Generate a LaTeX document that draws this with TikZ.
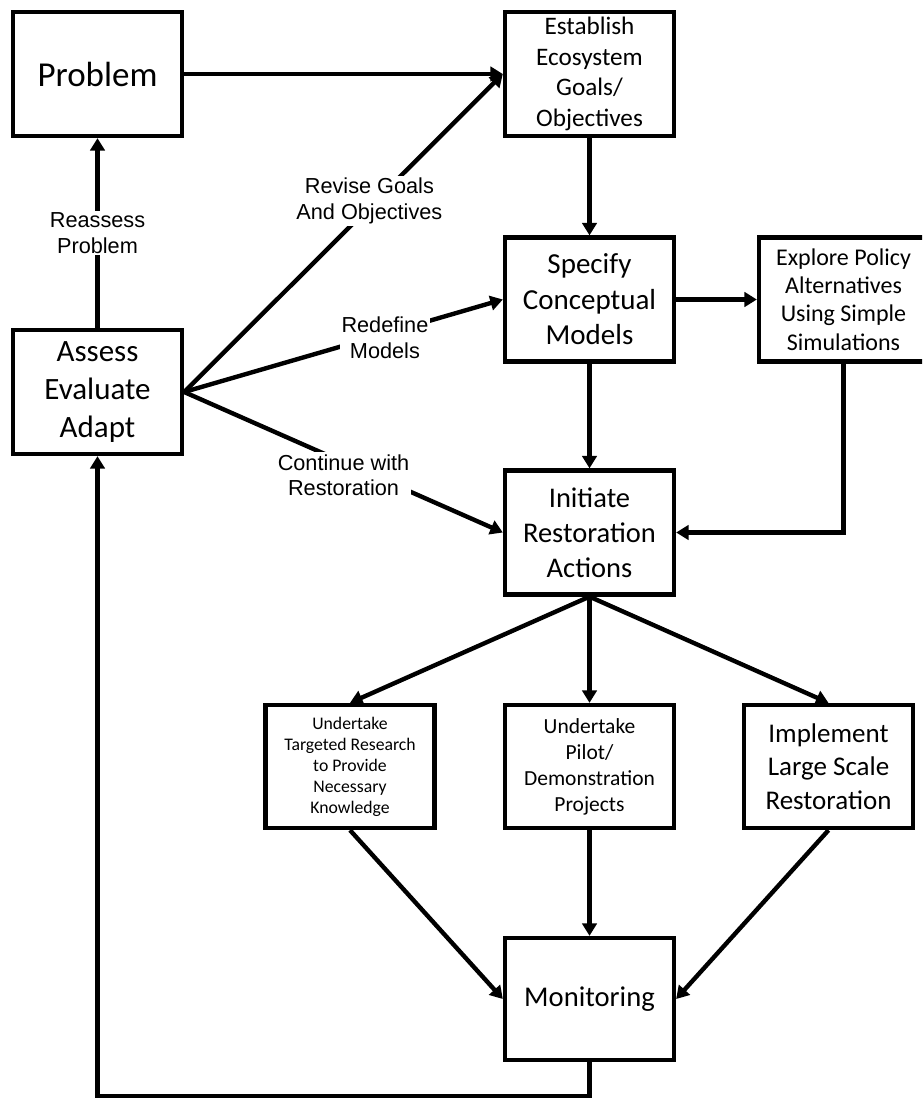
\documentclass[tikz,border=0pt]{standalone}
\usepackage{fontspec}
\setmainfont{Carlito}
\newfontfamily\labfont{Liberation Sans}
\usetikzlibrary{arrows.meta,calc}
\begin{document}
\begin{tikzpicture}[x=1pt,y=-1pt,
  box/.style={draw, line width=4.3pt, align=center, inner sep=0pt, minimum width=169pt, minimum height=124pt},
  conn/.style={line width=4.4pt, -{Triangle[length=12.5pt,width=14.5pt]}},
  lab/.style={fill=white, inner sep=2pt, align=center, font=\labfont\fontsize{21.7}{25.8}\selectfont},
]
\useasboundingbox (0,0) rectangle (922,1099);
\clip (0,0) rectangle (922,1099);
% boxes
\node[box, font=\fontsize{35}{42.7}\selectfont] (problem) at (97.5,74) {Problem};
\node[box, font=\fontsize{25.2}{30.5}\selectfont] (establish) at (589.5,74) {Establish\\Ecosystem\\Goals/\\Objectives};
\node[box, font=\fontsize{29}{35.4}\selectfont] (specify) at (589.5,299.5) {Specify\\Conceptual\\Models};
\node[box, font=\fontsize{24}{28.4}\selectfont] (explore) at (843.5,299.5) {Explore Policy\\Alternatives\\Using Simple\\Simulations};
\node[box, font=\fontsize{31}{37.8}\selectfont] (assess) at (97.5,392) {Assess\\Evaluate\\Adapt};
\node[box, font=\fontsize{28.5}{35}\selectfont] (initiate) at (589.5,532.5) {Initiate\\Restoration\\Actions};
\node[box, minimum height=123pt, font=\fontsize{17.7}{21}\selectfont] (research) at (350,766.5) {Undertake\\Targeted Research\\to Provide\\Necessary\\Knowledge};
\node[box, minimum height=123pt, font=\fontsize{21.5}{26}\selectfont] (pilot) at (589.5,766.5) {Undertake\\Pilot/\\Demonstration\\Projects};
\node[box, minimum height=123pt, font=\fontsize{27}{33.3}\selectfont] (implement) at (828.5,766.5) {Implement\\Large Scale\\Restoration};
\node[box, minimum height=122pt, font=\fontsize{28.6}{34.9}\selectfont] (monitoring) at (589.5,999) {Monitoring};
\coordinate (fb) at (97.5,1096);
% connectors
\draw[conn] (problem.east) -- (establish.west);
\draw[conn] (assess.north) -- node[lab, midway] {Reassess\\Problem} (problem.south);
\draw[conn] (assess.east) -- node[lab, pos=0.6, xshift=-6pt] {Revise Goals\\And Objectives} (establish.west);
\draw[conn] (assess.east) -- node[lab, pos=0.63, yshift=-4pt] {Redefine\\Models} (specify.west);
\draw[conn] (assess.east) -- node[lab, pos=0.5, yshift=-13pt] {Continue with\\Restoration} (initiate.west);
\draw[conn] (establish.south) -- (specify.north);
\draw[conn] (specify.south) -- (initiate.north);
\draw[conn] (specify.east) -- (explore.west);
\draw[conn] (explore.south) |- (initiate.east);
\draw[conn] (initiate.south) -- (research.north);
\draw[conn] (initiate.south) -- (pilot.north);
\draw[conn] (initiate.south) -- (implement.north);
\draw[conn] (research.south) -- (monitoring.west);
\draw[conn] (pilot.south) -- (monitoring.north);
\draw[conn] (implement.south) -- (monitoring.east);
\draw[conn] (monitoring.south) |- (fb) -- (assess.south);
\end{tikzpicture}
\end{document}
